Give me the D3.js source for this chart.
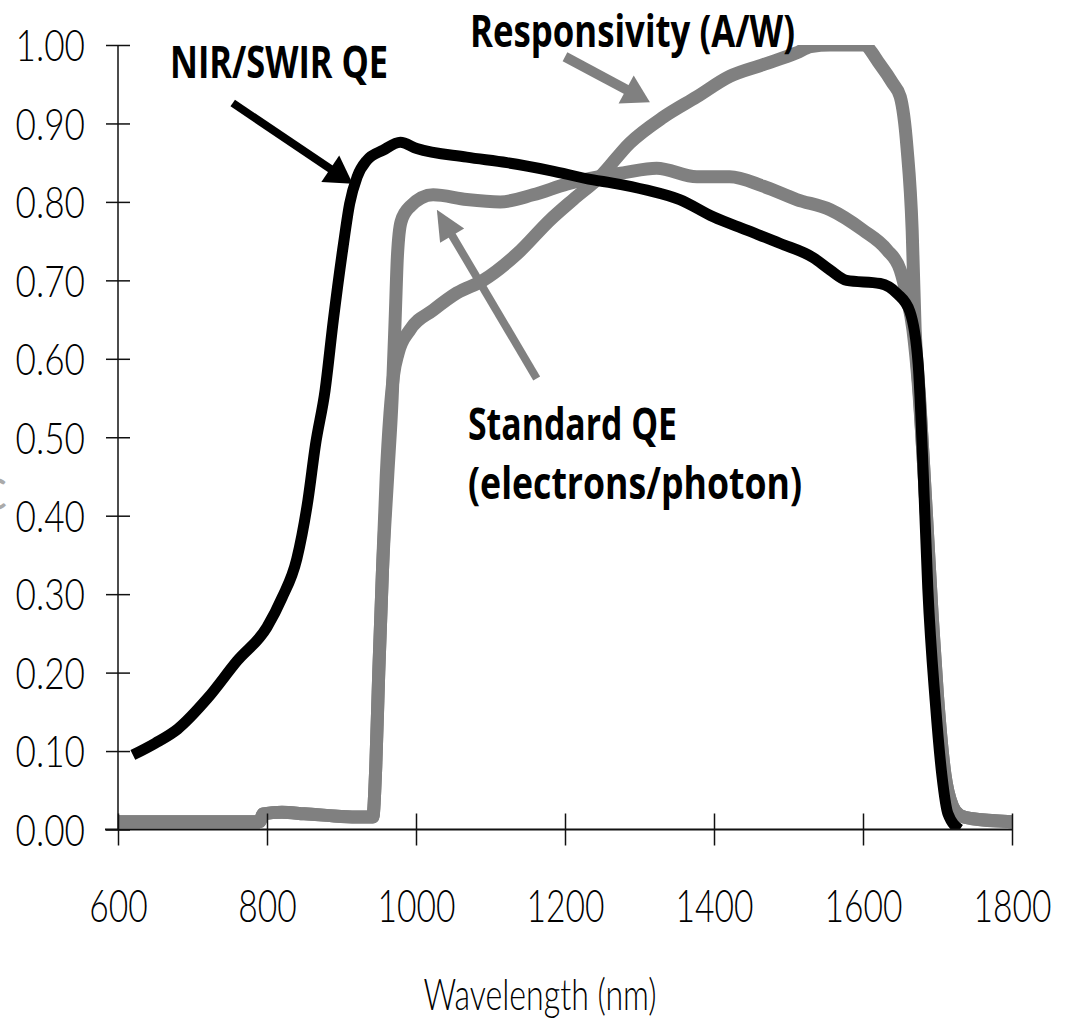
<!DOCTYPE html>
<html>
<head>
<meta charset="utf-8">
<script src="https://cdn.jsdelivr.net/npm/d3@7"></script>
<style>
  body { margin: 0; background: #fff; }
</style>
</head>
<body>
<script>
// NIR/SWIR QE (black)
const nirWl = [620, 650, 680, 720, 760, 800, 820, 840, 855, 865, 878, 889, 902, 911, 921, 934, 956, 979,
  1001, 1068, 1122, 1180, 1238, 1264, 1310, 1354, 1399, 1444, 1489, 1533, 1556, 1578, 1623, 1646, 1663,
  1674, 1681, 1687, 1697, 1706, 1714, 1730];
const nirQe = [0.095, 0.11, 0.128, 0.167, 0.215, 0.258, 0.295, 0.345, 0.42, 0.49, 0.56, 0.649, 0.742, 0.798,
  0.832, 0.853, 0.866, 0.876, 0.868, 0.857, 0.85, 0.84, 0.828, 0.824, 0.815, 0.803, 0.781, 0.764, 0.747,
  0.729, 0.713, 0.70, 0.696, 0.683, 0.66, 0.594, 0.451, 0.307, 0.163, 0.068, 0.02, 0.0];

// Responsivity (A/W), grey
const resWl = [600, 790, 795, 820, 850, 880, 920, 942, 946, 950, 955, 960, 965, 970, 976, 992, 1023, 1055,
  1090, 1136, 1180, 1211, 1247, 1287, 1332, 1377, 1421, 1466, 1511, 1530, 1556, 1600, 1623, 1640, 1650,
  1659, 1666, 1670, 1676, 1681, 1687, 1693, 1700, 1710, 1720, 1730, 1745, 1800];
const resVal = [0.01, 0.01, 0.02, 0.022, 0.02, 0.018, 0.016, 0.016, 0.08, 0.2, 0.33, 0.45, 0.53, 0.58, 0.607,
  0.637, 0.662, 0.684, 0.70, 0.734, 0.777, 0.803, 0.832, 0.875, 0.908, 0.934, 0.96, 0.975, 0.99, 0.998,
  1.0, 1.0, 0.975, 0.951, 0.934, 0.87, 0.764, 0.637, 0.55, 0.47, 0.37, 0.27, 0.17, 0.07, 0.03, 0.018,
  0.014, 0.01];

// Standard QE (electrons/photon), grey
const stdWl = [600, 790, 795, 820, 850, 880, 920, 942, 946, 950, 955, 962, 968, 972, 975, 980, 992, 1023,
  1068, 1113, 1157, 1203, 1234, 1278, 1323, 1377, 1421, 1466, 1511, 1556, 1600, 1632, 1650, 1659, 1667,
  1674, 1681, 1687, 1693, 1700, 1710, 1720, 1730, 1745, 1800];
const stdVal = [0.01, 0.01, 0.02, 0.022, 0.02, 0.018, 0.016, 0.016, 0.08, 0.2, 0.33, 0.45, 0.55, 0.65, 0.73,
  0.775, 0.794, 0.809, 0.803, 0.80, 0.809, 0.823, 0.83, 0.837, 0.843, 0.832, 0.832, 0.82, 0.803, 0.79,
  0.764, 0.739, 0.713, 0.679, 0.637, 0.57, 0.47, 0.37, 0.27, 0.17, 0.07, 0.03, 0.018, 0.014, 0.01];

const xTicks = [600, 800, 1000, 1200, 1400, 1600, 1800];
const yTicks = [0, 0.1, 0.2, 0.3, 0.4, 0.5, 0.6, 0.7, 0.8, 0.9, 1.0];

const width = 1067, height = 1021;
const grey = "#808080";
const lightFont = "Lato, 'Open Sans', sans-serif";
const boldFont = "'Open Sans', 'Noto Sans', sans-serif";

const svg = d3.select("body").append("svg")
  .attr("width", width)
  .attr("height", height);

const x = d3.scaleLinear().domain([600, 1800]).range([118, 1012]);
const y = d3.scaleLinear().domain([0, 1]).range([829.5, 45]);

// squeeze text horizontally, the original font is a narrow one
function condense(sel, k) {
  sel.each(function () {
    const len = this.getComputedTextLength();
    d3.select(this).attr("textLength", len * k).attr("lengthAdjust", "spacingAndGlyphs");
  });
}

svg.append("clipPath").attr("id", "plot")
  .append("rect")
  .attr("x", x(600)).attr("y", y(1))
  .attr("width", x(1800) - x(600)).attr("height", y(0) - y(1));

// series
const line = d3.line().x(d => x(d[0])).y(d => y(d[1])).curve(d3.curveMonotoneX);
const series = [
  { wl: stdWl, val: stdVal, color: grey, w: 13 },
  { wl: resWl, val: resVal, color: grey, w: 13 },
  { wl: nirWl, val: nirQe, color: "#000", w: 11 }
];
svg.append("g").attr("clip-path", "url(#plot)")
  .selectAll("path")
  .data(series)
  .join("path")
  .attr("d", s => line(s.wl.map((w, i) => [w, s.val[i]])))
  .attr("fill", "none")
  .attr("stroke", s => s.color)
  .attr("stroke-width", s => s.w)
  .attr("stroke-linejoin", "round")
  .attr("stroke-linecap", "butt");

// x axis with crossing ticks
const gx = svg.append("g")
  .attr("transform", `translate(0,${y(0)})`)
  .call(d3.axisBottom(x).tickValues(xTicks).tickFormat(d3.format("d")).tickSize(16).tickPadding(0));
gx.select(".domain").remove();
gx.selectAll(".tick line").attr("y1", -16).attr("y2", 16).attr("stroke", "#111").attr("stroke-width", 1.5);
gx.selectAll(".tick text")
  .attr("y", 92).attr("dy", null)
  .style("font-family", lightFont).style("font-weight", 300).style("font-size", "46px").attr("fill", "#000");
gx.append("line")
  .attr("x1", 105).attr("x2", x(1800))
  .attr("stroke", "#111").attr("stroke-width", 1.8);

// y axis with crossing ticks
const gy = svg.append("g")
  .attr("transform", `translate(${x(600)},0)`)
  .call(d3.axisLeft(y).tickValues(yTicks).tickFormat(d3.format(".2f")).tickSize(12).tickPadding(0));
gy.select(".domain").remove();
gy.selectAll(".tick line").attr("x1", -12).attr("x2", 12).attr("stroke", "#111").attr("stroke-width", 1.5);
gy.selectAll(".tick text")
  .attr("x", -33).attr("dy", "0.36em")
  .style("font-family", lightFont).style("font-weight", 300).style("font-size", "44px").attr("fill", "#000");
gy.append("line")
  .attr("y1", y(1)).attr("y2", y(0))
  .attr("stroke", "#111").attr("stroke-width", 1.5);

condense(gx.selectAll(".tick text"), 0.73);
condense(gy.selectAll(".tick text"), 0.8);

// axis title
const xt = svg.append("text")
  .attr("x", 540).attr("y", 1010)
  .attr("text-anchor", "middle")
  .style("font-family", lightFont).style("font-weight", 300).style("font-size", "44px")
  .text("Wavelength (nm)");
condense(xt, 0.73);

// clipped remnant of the y title at the left edge
svg.append("text")
  .attr("x", 7).attr("y", 510)
  .attr("text-anchor", "end")
  .style("font-family", lightFont).style("font-size", "44px")
  .attr("fill", "#aaa")
  .text("C");

// arrows, given in data units
function arrow(from, tip, color, shaft, headLen, headHalf) {
  const x0 = x(from[0]), y0 = y(from[1]), x1 = x(tip[0]), y1 = y(tip[1]);
  const dx = x1 - x0, dy = y1 - y0, len = Math.hypot(dx, dy);
  const ux = dx / len, uy = dy / len;
  const bx = x1 - ux * headLen, by = y1 - uy * headLen;
  svg.append("line")
    .attr("x1", x0).attr("y1", y0).attr("x2", bx + ux * 2).attr("y2", by + uy * 2)
    .attr("stroke", color).attr("stroke-width", shaft);
  svg.append("path")
    .attr("d", `M${x1},${y1}L${bx - uy * headHalf},${by + ux * headHalf}L${bx + uy * headHalf},${by - ux * headHalf}Z`)
    .attr("fill", color);
}
arrow([754, 0.926], [915, 0.823], "#000", 8, 27, 16);
arrow([1200, 0.985], [1314, 0.927], grey, 10, 27, 16);
arrow([1162, 0.575], [1028, 0.79], grey, 8, 30, 14);

// labels
const labels = [
  { t: "NIR/SWIR QE", x: 170, y: 78, w: 218 },
  { t: "Responsivity (A/W)", x: 470, y: 47, w: 325 },
  { t: "Standard QE", x: 468, y: 440, w: 209 },
  { t: "(electrons/photon)", x: 468, y: 499, w: 334 }
];
svg.selectAll(".lbl")
  .data(labels)
  .join("text")
  .attr("class", "lbl")
  .attr("x", d => d.x).attr("y", d => d.y)
  .attr("textLength", d => d.w).attr("lengthAdjust", "spacingAndGlyphs")
  .style("font-family", boldFont).style("font-weight", 700).style("font-size", "44px")
  .attr("fill", "#000")
  .text(d => d.t);
</script>
</body>
</html>
